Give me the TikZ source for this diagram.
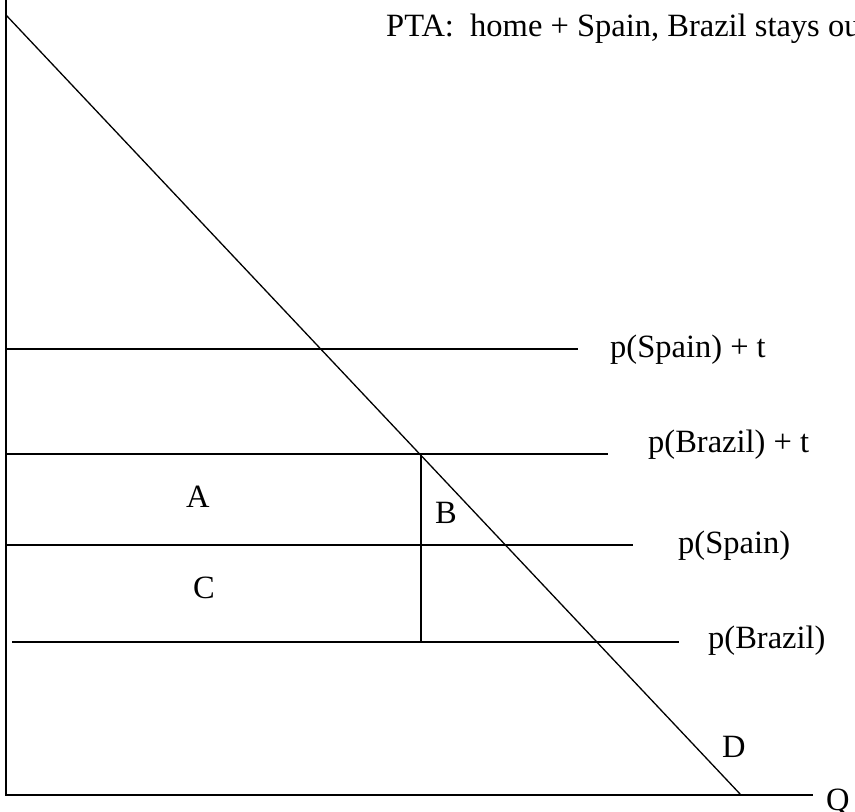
\documentclass[tikz,border=0pt]{standalone}
\usepackage{fontspec}
\setmainfont{Liberation Serif}
\begin{document}
\begin{tikzpicture}[x=1pt,y=-1pt,
  ln/.style={line width=1.3pt,black},
  lbl/.style={font=\fontsize{32.5}{38}\selectfont,inner sep=0pt,anchor=base west}]
\useasboundingbox (0,0) rectangle (855,812);
\clip (0,0) rectangle (855,812);
% axes
\coordinate (O) at (6,795);
\coordinate (Ytop) at (6,0);
\coordinate (Xend) at (813,795);
\draw[ln] (Ytop) -- (O) -- (Xend);
\node[lbl] (Q) at (826,810) {Q};
% demand
\coordinate (D1) at (6,15);
\coordinate (D2) at (741,795);
\draw[ln] (D1) -- (D2);
% price lines
\coordinate (s1a) at (6,349); \coordinate (s1b) at (578,349);
\coordinate (b1a) at (6,454); \coordinate (b1b) at (608,454);
\coordinate (s0a) at (6,545); \coordinate (s0b) at (633,545);
\coordinate (b0a) at (12,642); \coordinate (b0b) at (679,642);
\draw[ln] (s1a) -- (s1b);
\draw[ln] (b1a) -- (b1b);
\draw[ln] (s0a) -- (s0b);
\draw[ln] (b0a) -- (b0b);
\coordinate (v1) at (421,454); \coordinate (v2) at (421,642);
\draw[ln] (v1) -- (v2);
% labels
\node[lbl] (ls1) at (610,357) {p(Spain) + t};
\node[lbl] (lb1) at (648,452) {p(Brazil) + t};
\node[lbl] (ls0) at (678,553) {p(Spain)};
\node[lbl] (lb0) at (708,648) {p(Brazil)};
\node[lbl] (A) at (186,507) {A};
\node[lbl] (B) at (435,523) {B};
\node[lbl] (C) at (193,598) {C};
\node[lbl] (D) at (722,757) {D};
\node[lbl] (title) at (386,36) {PTA:\ \ home + Spain, Brazil stays out};
\end{tikzpicture}
\end{document}
